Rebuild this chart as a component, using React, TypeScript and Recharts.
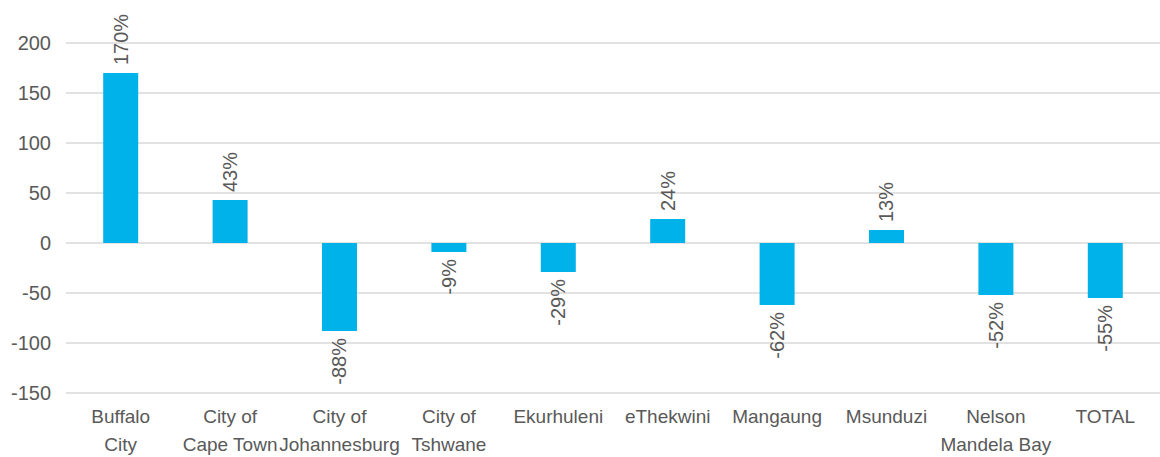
import React from 'react';
import { BarChart, Bar, XAxis, YAxis, CartesianGrid, LabelList } from 'recharts';

const cities = [
  'Buffalo\nCity',
  'City of\nCape Town',
  'City of\nJohannesburg',
  'City of\nTshwane',
  'Ekurhuleni',
  'eThekwini',
  'Mangaung',
  'Msunduzi',
  'Nelson\nMandela Bay',
  'TOTAL',
];
const change = [170, 43, -88, -9, -29, 24, -62, 13, -52, -55];
const yTicks = [-150, -100, -50, 0, 50, 100, 150, 200];

const data = cities.map((name, i) => ({ name, value: change[i] }));

const FONT = '"Liberation Sans", Arial, sans-serif';
const GREY = '#595959';

const CityTick = (props: any) => {
  const { x, y, payload } = props;
  const lines = String(payload.value).split('\n');
  return (
    <text x={x} y={y} textAnchor="middle" fill={GREY} fontSize={19} fontFamily={FONT}>
      {lines.map((l, i) => (
        <tspan key={i} x={x} y={y + 22 + i * 28}>
          {l}
        </tspan>
      ))}
    </text>
  );
};

const PctLabel = (props: any) => {
  const { x, y, width, height, value } = props;
  const cx = x + width / 2;
  const top = Math.min(y, y + height);
  const bottom = Math.max(y, y + height);
  const pos = value >= 0;
  const ly = pos ? top - 8 : bottom + 7;
  return (
    <text
      x={cx}
      y={ly}
      transform={`rotate(-90 ${cx} ${ly})`}
      textAnchor={pos ? 'start' : 'end'}
      dominantBaseline="central"
      fill={GREY}
      fontSize={20}
      fontFamily={FONT}
    >
      {`${value}%`}
    </text>
  );
};

export default function App() {
  return (
    <div style={{ position: 'absolute', left: 0, top: 0, background: '#fff' }}>
      <BarChart
        width={1160}
        height={457}
        data={data}
        margin={{ top: 43, right: 0, bottom: 0, left: 0 }}
        barCategoryGap="34%"
      >
        <CartesianGrid vertical={false} stroke="#d9d9d9" strokeWidth={1.5} />
        <XAxis
          dataKey="name"
          axisLine={false}
          tickLine={false}
          height={64}
          interval={0}
          tick={<CityTick />}
        />
        <YAxis
          domain={[-150, 200]}
          ticks={yTicks}
          axisLine={false}
          tickLine={false}
          width={66}
          tickMargin={9}
          tick={{ fill: GREY, fontSize: 20, fontFamily: FONT }}
        />
        <Bar dataKey="value" fill="#00b2ea" isAnimationActive={false}>
          <LabelList dataKey="value" content={<PctLabel />} />
        </Bar>
      </BarChart>
    </div>
  );
}
